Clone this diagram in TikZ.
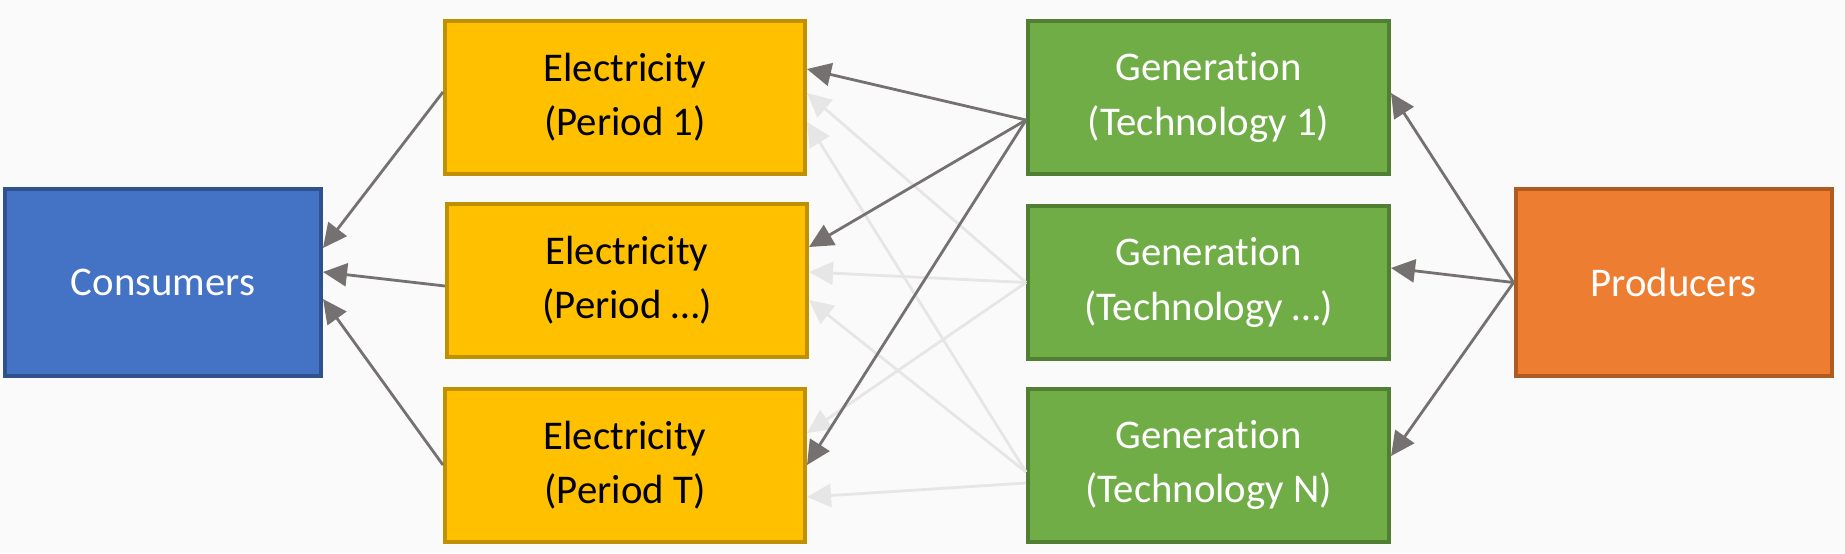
\documentclass[tikz,border=0pt]{standalone}
\usepackage{fontspec}
\setmainfont{Carlito}[Ligatures=NoCommon]
\usepackage{tikz}
\usetikzlibrary{positioning,arrows.meta}

\definecolor{bgcol}{HTML}{FAFAFA}
\definecolor{consfill}{HTML}{4472C4}
\definecolor{consline}{HTML}{2F528F}
\definecolor{elecfill}{HTML}{FFC000}
\definecolor{elecline}{HTML}{BF9000}
\definecolor{genfill}{HTML}{70AD47}
\definecolor{genline}{HTML}{507E32}
\definecolor{prodfill}{HTML}{ED7D31}
\definecolor{prodline}{HTML}{AE5A21}
\definecolor{flowcol}{HTML}{767171}
\definecolor{faintcol}{HTML}{E7E6E6}

\begin{document}
\begin{tikzpicture}[every node/.style={rectangle,line width=0.04cm,inner sep=0pt,align=center,font=\fontsize{11.6}{15.4}\selectfont},
	sidebox/.style={draw,text=white,minimum width=3.16cm,minimum height=1.87cm},
	elec/.style={draw=elecline,fill=elecfill,minimum width=3.60cm,minimum height=1.53cm},
	gen/.style={draw=genline,fill=genfill,text=white,minimum width=3.61cm,minimum height=1.53cm},
	flow/.style={draw=flowcol,line width=0.028cm,-{Triangle[length=2.4mm,width=2.3mm]}},
	faint/.style={draw=faintcol,line width=0.028cm,-{Triangle[length=2.4mm,width=2.3mm]}}]

		%background
		\fill[bgcol] (0,0) rectangle (18.45,5.53);

		%outer nodes
		\node[sidebox,draw=consline,fill=consfill] (cons) at (1.63,2.705) {Consumers};
		\node[sidebox,draw=prodline,fill=prodfill] (prod) at (16.735,2.705) {Producers};

		%electricity nodes
		\node[elec] (e1) at (6.25,4.555) {Electricity\\(Period 1)};
		\node[elec] (e2) at (6.27,2.725) {Electricity\\(Period …)};
		\node[elec] (e3) at (6.25,0.88) {Electricity\\(Period T)};

		%generation nodes
		\node[gen] (g1) at (12.085,4.555) {Generation\\(Technology 1)};
		\node[gen] (g2) at (12.085,2.705) {Generation\\(Technology …)};
		\node[gen] (g3) at (12.085,0.88) {Generation\\(Technology N)};

		%faint edges
		\draw[faint] (g2.west) -- ([yshift=0.045cm]e1.east);
		\draw[faint] (g2.west) -- ([yshift=0.085cm]e2.east);
		\draw[faint] (g2.west) -- ([yshift=0.32cm]e3.east);
		\draw[faint] ([yshift=-0.07cm]g3.west) -- ([yshift=-0.245cm]e1.east);
		\draw[faint] ([yshift=-0.07cm]g3.west) -- ([yshift=-0.195cm]e2.east);
		\draw[faint] ([yshift=-0.18cm]g3.west) -- ([yshift=-0.32cm]e3.east);

		%edges
		\draw[flow] ([yshift=0.055cm]e1.west) -- ([yshift=0.345cm]cons.east);
		\draw[flow] ([yshift=-0.055cm]e2.west) -- ([yshift=0.105cm]cons.east);
		\draw[flow] (e3.west) -- ([yshift=-0.165cm]cons.east);
		\draw[flow] ([yshift=-0.225cm]g1.west) -- ([yshift=0.285cm]e1.east);
		\draw[flow] ([yshift=-0.225cm]g1.west) -- ([yshift=0.335cm]e2.east);
		\draw[flow] ([yshift=-0.225cm]g1.west) -- (e3.east);
		\draw[flow] (prod.west) -- ([yshift=0.045cm]g1.east);
		\draw[flow] (prod.west) -- ([yshift=0.145cm]g2.east);
		\draw[flow] (prod.west) -- ([yshift=0.09cm]g3.east);
		\end{tikzpicture}
\end{document}
